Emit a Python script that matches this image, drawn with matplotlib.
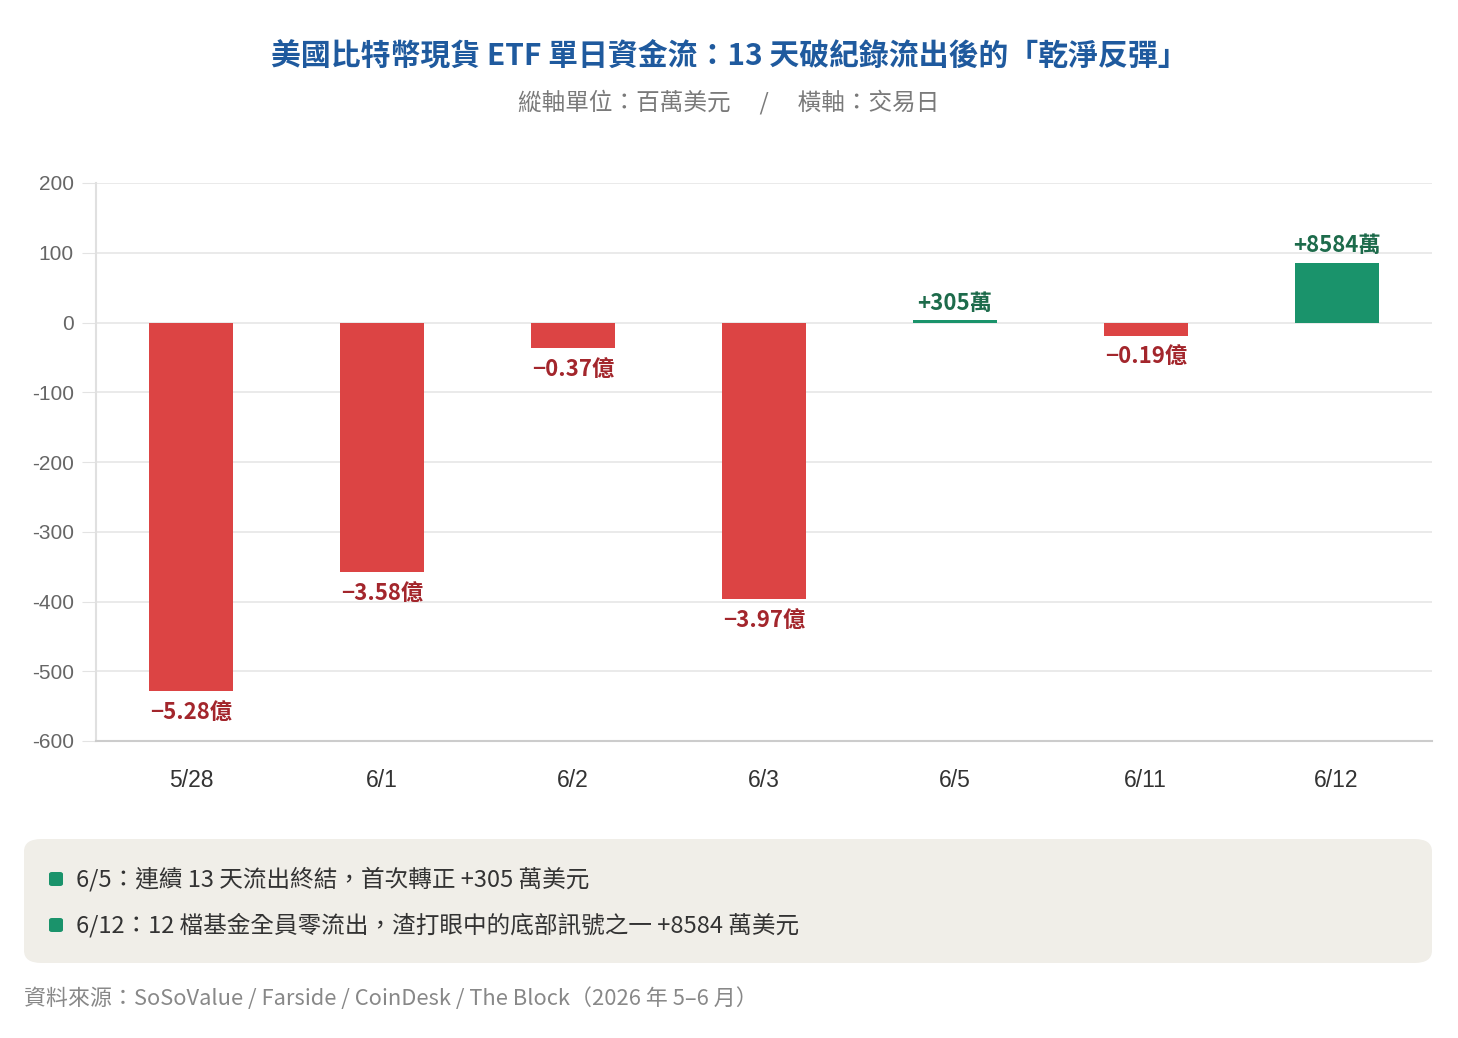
import matplotlib.pyplot as plt
from matplotlib.patches import FancyBboxPatch

plt.rcParams['font.family'] = ['Noto Sans CJK TC', 'DejaVu Sans']

# data (百萬美元)
dates = ['5/28', '6/1', '6/2', '6/3', '6/5', '6/11', '6/12']
flows = [-528, -358, -37, -397, 3.05, -19, 85.84]
labels = ['−5.28億', '−3.58億', '−0.37億', '−3.97億', '+305萬', '−0.19億', '+8584萬']
notes = ['6/5：連續 13 天流出終結，首次轉正 +305 萬美元',
         '6/12：12 檔基金全員零流出，渣打眼中的底部訊號之一 +8584 萬美元']
yticks = [200, 100, 0, -100, -200, -300, -400, -500, -600]

red, green = '#dc4444', '#1a936b'
red_txt, green_txt = '#a3262c', '#1d6b4b'
num_font = ['Liberation Sans', 'Noto Sans CJK TC']

fig = plt.figure(figsize=(14.58, 10.38), dpi=100)
ax = fig.add_axes([96/1458, 1 - 741/1038, 1336/1458, 558/1038])

colors = [green if v > 0 else red for v in flows]
bars = ax.bar(range(len(dates)), flows, width=0.44, color=colors, zorder=3)

for b, v, lab in zip(bars, flows, labels):
    x = b.get_x() + b.get_width() / 2
    if v > 0:
        ax.annotate(lab, (x, v), xytext=(0, 4), textcoords='offset points',
                    ha='center', va='bottom', fontsize=16, color=green_txt, fontweight='bold')
    else:
        ax.annotate(lab, (x, v), xytext=(0, -7), textcoords='offset points',
                    ha='center', va='top', fontsize=16, color=red_txt, fontweight='bold')

ax.set_xlim(-0.5, len(dates) - 0.5)
ax.set_ylim(-600, 200)
ax.set_yticks(yticks)
ax.set_yticklabels([str(t) for t in yticks], family=num_font)
ax.set_xticks(range(len(dates)))
ax.set_xticklabels(dates, family=num_font)
ax.tick_params(axis='y', length=10, color='#e3e3e3', labelsize=15, labelcolor='#666666', pad=6)
ax.tick_params(axis='x', length=0, labelsize=16.5, labelcolor='#333333', pad=20)
ax.grid(axis='y', color='#e6e6e6', linewidth=1.2, zorder=0)
for s in ['top', 'right']:
    ax.spines[s].set_visible(False)
ax.spines['left'].set_color('#e0e0e0')
ax.spines['left'].set_linewidth(1.5)
ax.spines['bottom'].set_color('#cccccc')
ax.spines['bottom'].set_linewidth(1.5)

# titles
fig.text(0.5, 1 - 57/1038, '美國比特幣現貨 ETF 單日資金流：13 天破紀錄流出後的「乾淨反彈」',
         ha='center', va='center', fontsize=21.5, fontweight='bold', color='#1f5a9e')
fig.text(0.5, 1 - 102/1038, '縱軸單位：百萬美元　 /　 橫軸：交易日',
         ha='center', va='center', fontsize=17, color='#7a7a7a')

# note box
box = FancyBboxPatch((24/1458, 1 - 963/1038), 1408/1458, 124/1038,
                     boxstyle='round,pad=0,rounding_size=0.012',
                     transform=fig.transFigure, facecolor='#f0eee8', edgecolor='none')
fig.patches.append(box)
for i, note in enumerate(notes):
    y = 1 - (879 + i * 46) / 1038
    fig.patches.append(FancyBboxPatch((49/1458, y - 7/1038), 14/1458, 14/1038,
                                      boxstyle='round,pad=0,rounding_size=0.002',
                                      transform=fig.transFigure, facecolor=green, edgecolor='none'))
    fig.text(76/1458, y, note, ha='left', va='center', fontsize=17, color='#333333')

fig.text(24/1458, 1 - 999/1038, '資料來源：SoSoValue / Farside / CoinDesk / The Block（2026 年 5–6 月）',
         ha='left', va='center', fontsize=15.8, color='#888888')

fig.savefig('out.png', dpi=100, facecolor='white')
